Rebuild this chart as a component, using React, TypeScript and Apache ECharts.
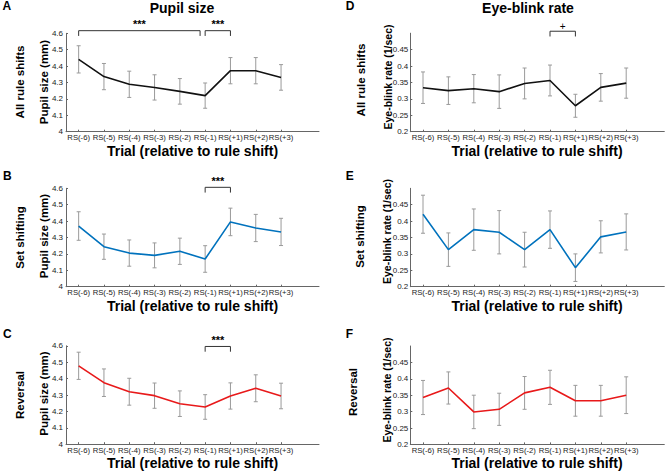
import React, { useEffect, useRef } from 'react';
import * as echarts from 'echarts';

const categories = ['RS(-6)', 'RS(-5)', 'RS(-4)', 'RS(-3)', 'RS(-2)', 'RS(-1)', 'RS(+1)', 'RS(+2)', 'RS(+3)'];

const pupilAll = [4.441, 4.336, 4.289, 4.27, 4.246, 4.22, 4.372, 4.372, 4.331];
const pupilAllErr = [0.083, 0.08, 0.08, 0.077, 0.078, 0.077, 0.08, 0.08, 0.078];
const pupilSet = [4.37, 4.244, 4.205, 4.191, 4.216, 4.169, 4.395, 4.358, 4.334];
const pupilSetErr = [0.087, 0.077, 0.08, 0.076, 0.08, 0.081, 0.084, 0.083, 0.083];
const pupilRev = [4.478, 4.375, 4.32, 4.296, 4.247, 4.227, 4.294, 4.341, 4.294];
const pupilRevErr = [0.083, 0.084, 0.082, 0.077, 0.078, 0.075, 0.08, 0.082, 0.078];

const blinkAll = [0.334, 0.325, 0.331, 0.322, 0.347, 0.356, 0.279, 0.335, 0.348];
const blinkAllErr = [0.048, 0.042, 0.043, 0.051, 0.047, 0.047, 0.035, 0.042, 0.046];
const blinkSet = [0.421, 0.313, 0.374, 0.366, 0.313, 0.374, 0.258, 0.352, 0.367];
const blinkSetErr = [0.058, 0.051, 0.063, 0.066, 0.053, 0.057, 0.042, 0.049, 0.055];
const blinkRev = [0.343, 0.372, 0.299, 0.307, 0.357, 0.374, 0.333, 0.333, 0.35];
const blinkRevErr = [0.052, 0.049, 0.051, 0.049, 0.05, 0.052, 0.047, 0.047, 0.056];

const pupilTicks = [4, 4.1, 4.2, 4.3, 4.4, 4.5, 4.6];
const blinkTicks = [0.2, 0.25, 0.3, 0.35, 0.4, 0.45];

// significance brackets: [from, to, topValue, endValue]
const bracketsA = [[1, 5.8, 4.616, 4.584], [6, 7, 4.616, 4.584]];
const bracketsALabels = ['***', '***'];
const bracketsB = [[6, 7, 4.606, 4.574]];
const bracketsBLabels = ['***'];
const bracketsC = [[6, 7, 4.596, 4.564]];
const bracketsCLabels = ['***'];
const bracketsD = [[6, 7, 0.506, 0.49]];
const bracketsDLabels = ['+'];

const FONT = '"Liberation Sans", Arial, Helvetica, sans-serif';
const xTickValues = categories.map((_, i) => i + 1);

const BLACK = '#111111';
const BLUE = '#0072BD';
const RED = '#e8191a';

type Panel = {
  values: number[];
  errs: number[];
  color: string;
  yMin: number;
  yMax: number;
  yInterval: number;
  yTicks: number[];
  brackets: number[][];
  bracketLabels: string[];
  grid: { left: number; top: number; width: number; height: number };
};

const panels: Panel[] = [
  { values: pupilAll, errs: pupilAllErr, color: BLACK, yMin: 4, yMax: 4.6, yInterval: 0.1, yTicks: pupilTicks, brackets: bracketsA, bracketLabels: bracketsALabels, grid: { left: 66, top: 33.3, width: 253, height: 98.4 } },
  { values: pupilSet, errs: pupilSetErr, color: BLUE, yMin: 4, yMax: 4.6, yInterval: 0.1, yTicks: pupilTicks, brackets: bracketsB, bracketLabels: bracketsBLabels, grid: { left: 66, top: 188.3, width: 253, height: 98.4 } },
  { values: pupilRev, errs: pupilRevErr, color: RED, yMin: 4, yMax: 4.6, yInterval: 0.1, yTicks: pupilTicks, brackets: bracketsC, bracketLabels: bracketsCLabels, grid: { left: 66, top: 345.8, width: 253, height: 98.4 } },
  { values: blinkAll, errs: blinkAllErr, color: BLACK, yMin: 0.2, yMax: 0.5, yInterval: 0.05, yTicks: blinkTicks, brackets: bracketsD, bracketLabels: bracketsDLabels, grid: { left: 410.3, top: 33.2, width: 254, height: 98.5 } },
  { values: blinkSet, errs: blinkSetErr, color: BLUE, yMin: 0.2, yMax: 0.5, yInterval: 0.05, yTicks: blinkTicks, brackets: [], bracketLabels: [], grid: { left: 410.3, top: 188.3, width: 254, height: 98.4 } },
  { values: blinkRev, errs: blinkRevErr, color: RED, yMin: 0.2, yMax: 0.5, yInterval: 0.05, yTicks: blinkTicks, brackets: [], bracketLabels: [], grid: { left: 410.3, top: 346, width: 254, height: 98.4 } },
];

function renderErr(params: any, api: any) {
  const x = api.value(0);
  const y = api.value(1);
  const e = api.value(2);
  const top = api.coord([x, y + e]);
  const bot = api.coord([x, y - e]);
  const cw = 2;
  const style = { stroke: '#9a9a9a', lineWidth: 1, fill: 'none' };
  return {
    type: 'group',
    children: [
      { type: 'line', shape: { x1: top[0], y1: top[1], x2: bot[0], y2: bot[1] }, style },
      { type: 'line', shape: { x1: top[0] - cw, y1: top[1], x2: top[0] + cw, y2: top[1] }, style },
      { type: 'line', shape: { x1: bot[0] - cw, y1: bot[1], x2: bot[0] + cw, y2: bot[1] }, style },
    ],
  };
}

function makeBracketRender(labels: string[]) {
  return (params: any, api: any) => {
    const x1 = api.value(0);
    const x2 = api.value(1);
    const yt = api.value(2);
    const ye = api.value(3);
    const a = api.coord([x1, yt]);
    const b = api.coord([x2, yt]);
    const ae = api.coord([x1, ye]);
    const label = labels[params.dataIndex];
    const isPlus = label === '+';
    return {
      type: 'group',
      children: [
        {
          type: 'polyline',
          shape: { points: [[a[0], ae[1]], [a[0], a[1]], [b[0], b[1]], [b[0], ae[1]]] },
          style: { stroke: '#333333', lineWidth: 1, fill: 'none' },
        },
        {
          type: 'text',
          x: (a[0] + b[0]) / 2,
          y: a[1] - (isPlus ? 0 : 1),
          style: {
            text: label,
            font: `${isPlus ? 'normal 10px' : 'bold 11px'} ${FONT}`,
            fill: '#000000',
            align: 'center',
            verticalAlign: 'bottom',
            textAlign: 'center',
            textVerticalAlign: 'bottom',
          },
        },
      ],
    };
  };
}

function fmtNum(v: number) {
  return String(parseFloat(Number(v).toFixed(2)));
}

function txt(text: string, x: number, y: number, size: number, opts: any = {}) {
  return {
    type: 'text',
    x,
    y,
    rotation: opts.rotate ? Math.PI / 2 : 0,
    style: {
      text,
      font: `bold ${size}px ${FONT}`,
      fill: '#000',
      align: opts.align || 'center',
      verticalAlign: 'middle',
      textAlign: opts.align || 'center',
      textVerticalAlign: 'middle',
    },
  };
}

function buildOption() {
  const grids: any[] = [];
  const xAxes: any[] = [];
  const yAxes: any[] = [];
  const series: any[] = [];
  panels.forEach((p, i) => {
    grids.push({ ...p.grid, outerBoundsMode: 'none' });
    xAxes.push({
      type: 'value',
      gridIndex: i,
      min: 0.5,
      max: 10.5,
      axisLine: { show: true, lineStyle: { color: '#666', width: 1 } },
      axisTick: { show: true, inside: true, length: 2, customValues: xTickValues, lineStyle: { color: '#666' } },
      axisLabel: {
        show: true,
        customValues: xTickValues,
        formatter: (v: number) => categories[Math.round(v) - 1] ?? '',
        fontSize: 7.7,
        fontFamily: FONT,
        color: '#222',
        margin: 2,
      },
      splitLine: { show: false },
    });
    yAxes.push({
      type: 'value',
      gridIndex: i,
      min: p.yMin,
      max: p.yMax,
      interval: p.yInterval,
      axisLine: { show: true, lineStyle: { color: '#666', width: 1 } },
      axisTick: { show: true, inside: true, length: 2, customValues: p.yTicks, lineStyle: { color: '#666' } },
      axisLabel: {
        show: true,
        customValues: p.yTicks,
        formatter: (v: number) => fmtNum(v),
        fontSize: 8,
        fontFamily: FONT,
        color: '#222',
        margin: i < 3 ? 3 : 2,
      },
      splitLine: { show: false },
    });
    series.push({
      type: 'custom',
      xAxisIndex: i,
      yAxisIndex: i,
      data: p.values.map((v, j) => [j + 1, v, p.errs[j]]),
      renderItem: renderErr,
      itemStyle: { color: '#9a9a9a' },
      z: 2,
      silent: true,
    });
    series.push({
      type: 'line',
      xAxisIndex: i,
      yAxisIndex: i,
      data: p.values.map((v, j) => [j + 1, v]),
      symbol: 'none',
      showSymbol: false,
      itemStyle: { color: p.color },
      lineStyle: { color: p.color, width: 1.6 },
      z: 3,
      silent: true,
    });
    if (p.brackets.length) {
      series.push({
        type: 'custom',
        xAxisIndex: i,
        yAxisIndex: i,
        data: p.brackets,
        renderItem: makeBracketRender(p.bracketLabels),
        itemStyle: { color: '#222222' },
        clip: false,
        z: 4,
        silent: true,
      });
    }
  });

  const graphic: any[] = [
    txt('Pupil size', 182, 7.5, 14),
    txt('Eye-blink rate', 528, 7.5, 14),
    txt('A', 2.5, 6, 12, { align: 'left' }),
    txt('B', 3, 176, 12, { align: 'left' }),
    txt('C', 3, 334, 12, { align: 'left' }),
    txt('D', 345.7, 6, 12, { align: 'left' }),
    txt('E', 345.7, 176, 12, { align: 'left' }),
    txt('F', 345.7, 334, 12, { align: 'left' }),
    txt('All rule shifts', 19.5, 82, 11.5, { rotate: true }),
    txt('Set shifting', 19.5, 237.5, 11.5, { rotate: true }),
    txt('Reversal', 19.5, 395, 11.5, { rotate: true }),
    txt('All rule shifts', 361, 80, 11.5, { rotate: true }),
    txt('Set shifting', 360, 236.5, 11.5, { rotate: true }),
    txt('Reversal', 353, 392, 11.5, { rotate: true }),
    txt('Pupil size (mm)', 43.5, 82, 11.5, { rotate: true }),
    txt('Pupil size (mm)', 43.5, 236, 11.5, { rotate: true }),
    txt('Pupil size (mm)', 43.5, 393.5, 11.5, { rotate: true }),
    txt('Eye-blink rate (1/sec)', 387.5, 77, 10.5, { rotate: true }),
    txt('Eye-blink rate (1/sec)', 386.5, 231.5, 10.5, { rotate: true }),
    txt('Eye-blink rate (1/sec)', 386.5, 390, 10.5, { rotate: true }),
    txt('Trial (relative to rule shift)', 192.5, 151, 14),
    txt('Trial (relative to rule shift)', 192.5, 306, 14),
    txt('Trial (relative to rule shift)', 192.5, 463, 14),
    txt('Trial (relative to rule shift)', 537, 151, 14),
    txt('Trial (relative to rule shift)', 537, 306, 14),
    txt('Trial (relative to rule shift)', 537, 463, 14),
  ];

  return {
    animation: false,
    backgroundColor: '#ffffff',
    textStyle: { fontFamily: FONT },
    grid: grids,
    xAxis: xAxes,
    yAxis: yAxes,
    series,
    graphic,
  };
}

export default function App() {
  const ref = useRef<HTMLDivElement>(null);
  useEffect(() => {
    const chart = echarts.init(ref.current as HTMLDivElement, null, { renderer: 'svg' });
    chart.setOption(buildOption() as any);
    return () => {
      chart.dispose();
    };
  }, []);
  return (
    <div
      ref={ref}
      style={{ position: 'fixed', left: 0, top: 0, width: 666, height: 472, background: '#fff' }}
    />
  );
}
